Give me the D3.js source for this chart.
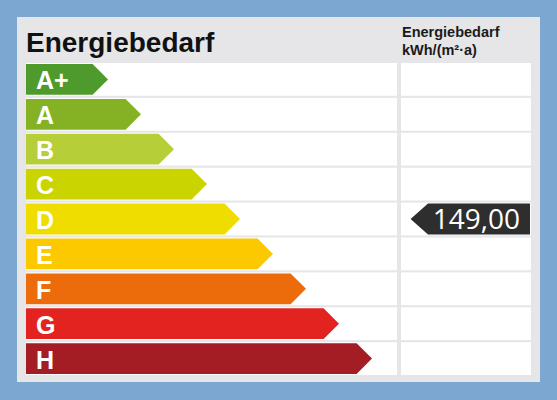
<!DOCTYPE html>
<html>
<head>
<meta charset="utf-8">
<script src="https://cdn.jsdelivr.net/npm/d3@7"></script>
<style>
  html, body { margin: 0; padding: 0; background: #7ba7d0; }
  svg { display: block; }
</style>
</head>
<body>
<script>
// ---- data ----
const classes = ["A+", "A", "B", "C", "D", "E", "F", "G", "H"];
const classRank = [1, 2, 3, 4, 5, 6, 7, 8, 9];
const classColors = ["#4f9a2d", "#85b224", "#b6cf39", "#cad400", "#efdd00", "#fcc800", "#ec6c0c", "#e32320", "#a51d24"];
const title = "Energiebedarf";
const unitLines = ["Energiebedarf", "kWh/(m²·a)"];
const markerValue = 149.00;
const markerClass = "D";

// ---- layout ----
const W = 557, H = 400;
const svg = d3.select("body").append("svg").attr("width", W).attr("height", H);

svg.append("rect").attr("width", W).attr("height", H).attr("fill", "#7ba7d0");
// panel
svg.append("rect").attr("x", 17).attr("y", 17).attr("width", 523).attr("height", 365).attr("fill", "#e6e6e8");

const y = d3.scaleBand().domain(classes).range([63, 375]).paddingInner(0.06).paddingOuter(0);
const x = d3.scaleLinear().domain([0, 9]).range([75, 372]);

const leftX0 = 26, leftX1 = 397, rightX0 = 401, rightX1 = 531;

// white rows
const rows = svg.append("g");
classes.forEach(c => {
  rows.append("rect").attr("x", leftX0).attr("y", y(c)).attr("width", leftX1 - leftX0).attr("height", y.bandwidth()).attr("fill", "#ffffff");
  rows.append("rect").attr("x", rightX0).attr("y", y(c)).attr("width", rightX1 - rightX0).attr("height", y.bandwidth()).attr("fill", "#ffffff");
});

// bars
const bh = y.bandwidth() - 2;
const bars = svg.append("g");
classes.forEach((c, i) => {
  const top = y(c) + 1, tip = x(classRank[i]), half = bh / 2;
  const pts = [[leftX0, top], [tip - half, top], [tip, top + half], [tip - half, top + bh], [leftX0, top + bh]];
  bars.append("polygon").attr("points", pts.map(p => p.join(",")).join(" ")).attr("fill", classColors[i]);
  bars.append("text").attr("x", 36).attr("y", top + half + 10)
    .attr("font-family", "Liberation Sans, Arial, sans-serif").attr("font-weight", "bold")
    .attr("font-size", 25).attr("fill", "#ffffff").text(c);
});

// title
svg.append("text").attr("x", 26).attr("y", 52)
  .attr("font-family", "Liberation Sans, Arial, sans-serif").attr("font-weight", "bold")
  .attr("font-size", 28).attr("fill", "#111111").text(title);

// unit header
unitLines.forEach((t, i) => {
  svg.append("text").attr("x", 402).attr("y", 37 + i * 18)
    .attr("font-family", "Liberation Sans, Arial, sans-serif").attr("font-weight", "bold")
    .attr("font-size", 14.5).attr("fill", "#1a1a1a").text(t);
});

// marker
const mTop = y(markerClass) + 1, mh = bh, mRight = 530, mLeft = 428, mTip = mLeft - mh / 2 - 2;
const mpts = [[mTip, mTop + mh / 2], [mLeft, mTop], [mRight, mTop], [mRight, mTop + mh], [mLeft, mTop + mh]];
svg.append("polygon").attr("points", mpts.map(p => p.join(",")).join(" ")).attr("fill", "#2e2e2e");
svg.append("text").attr("x", 520).attr("y", mTop + mh / 2 + 10).attr("text-anchor", "end")
  .attr("font-family", "Open Sans, sans-serif").attr("font-size", 28).attr("fill", "#ffffff")
  .text(d3.format(".2f")(markerValue).replace(".", ","));
</script>
</body>
</html>
